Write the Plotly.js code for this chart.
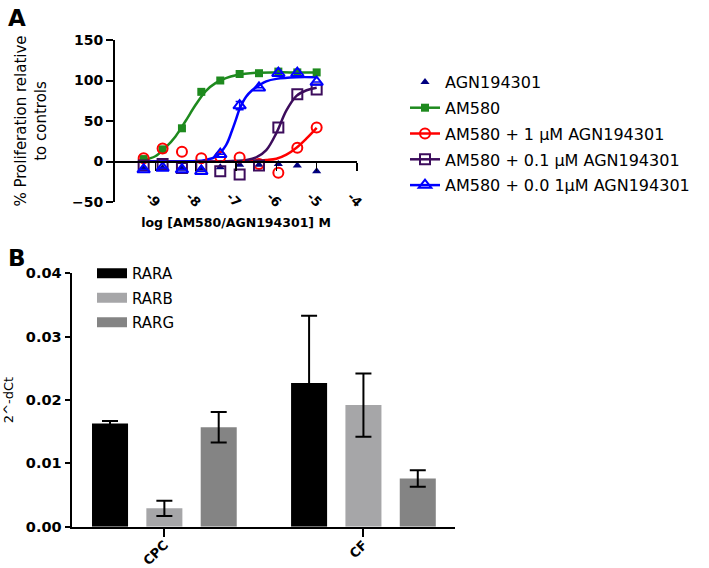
<!DOCTYPE html>
<html>
<head>
<meta charset="utf-8">
<script src="https://cdn.plot.ly/plotly-3.0.1.min.js"></script>
<style>html,body{margin:0;padding:0;background:#fff;}#chart{width:709px;height:568px;}</style>
</head>
<body>
<div id="chart"></div>
<script>
// ---------- Panel A data (log M concentrations, % proliferation) ----------
var logConc = [-9.29, -8.82, -8.34, -7.86, -7.39, -6.91, -6.43, -5.95, -5.48, -5.0];
var agnY    = [-8, -8, -9, -8, -7, -4, -4, -3, -5, -12];
var am580Y  = [3, 15, 41, 86, 100, 108, 109, 111, 110, 110];
var am1uMY  = [4, 16, 12, 4, 6, 5, -3, -14, 17, 42];
var am01uMY = [-5, -3, -8, -6, -12, -16, -5, 42, 83, 89];
var am001uMY= [-10, -8, -10, -12, 9, 69, 91, 109, 109, 98];
var am001uMErr = [0, 0, 0, 0, 0, 5, 0, 0, 0, 0];

// fitted curves
var am580FitX  = [-9.29, -9.0, -8.75, -8.5, -8.25, -8.0, -7.75, -7.5, -7.25, -7.0, -6.5, -6.0, -5.5, -5.0];
var am580FitY  = [2, 6.5, 17, 31, 50, 70, 87, 97, 103, 106.5, 109.5, 110, 110, 110];
var am1uMFitX  = [-9.29, -8.0, -7.0, -6.5, -6.25, -6.0, -5.75, -5.5, -5.25, -5.0];
var am1uMFitY  = [0, 0, 0, 0.8, 1.8, 3.5, 8.5, 17, 28.5, 41.5];
var am01uMFitX = [-9.29, -8.0, -7.5, -7.0, -6.75, -6.5, -6.25, -6.0, -5.75, -5.5, -5.25, -5.0];
var am01uMFitY = [0, 0, 0, 0.8, 1.8, 5, 14, 35, 63, 81, 88, 91];
var am001uMFitX= [-9.29, -8.5, -8.0, -7.75, -7.5, -7.25, -7.1, -7.0, -6.91, -6.75, -6.6, -6.43, -6.25, -6.0, -5.5, -5.0];
var am001uMFitY= [0, 0, 0.5, 2, 6, 20, 38, 52, 65, 80, 88, 94, 99, 102, 104, 104];

var xTickVals = [-9, -8, -7, -6, -5, -4];
var xTickText = ['-9', '-8', '-7', '-6', '-5', '-4'];
var yTickValsA = [-50, 0, 50, 100, 150];

var seriesNames = ['AGN194301', 'AM580', 'AM580 + 1 µM AGN194301', 'AM580 + 0.1 µM AGN194301', 'AM580 + 0.0 1µM AGN194301'];

// ---------- Panel B data ----------
var cells = ['CPC', 'CF'];
var genes = ['RARA', 'RARB', 'RARG'];
var raraVals = [0.0163, 0.0227];
var raraErr  = [0.0004, 0.0106];
var rarbVals = [0.0029, 0.0192];
var rarbErr  = [0.0012, 0.0050];
var rargVals = [0.0157, 0.0076];
var rargErr  = [0.0024, 0.0013];

// ---------- styles ----------
var FONT = 'DejaVu Sans';
var cNavy = '#000080', cGreen = '#1e8a1e', cRed = '#ff0000', cPurple = '#3c0c5c', cBlue = '#0000ff';
var gColors = ['#000000', '#a6a6a8', '#848484'];

var W = 709, H = 568;
function px(x){ return x / W; }
function py(y){ return 1 - y / H; }

var traces = [];

// fitted lines
function fitLine(x, y, color){
  return {x: x, y: y, xaxis: 'x', yaxis: 'y', mode: 'lines', type: 'scatter',
    line: {color: color, width: 2.5, shape: 'spline', smoothing: 1}, showlegend: false, hoverinfo: 'skip'};
}
traces.push(fitLine(am580FitX, am580FitY, cGreen));
traces.push(fitLine(am1uMFitX, am1uMFitY, cRed));
traces.push(fitLine(am01uMFitX, am01uMFitY, cPurple));
traces.push(fitLine(am001uMFitX, am001uMFitY, cBlue));

var markers = [
  {symbol: 'triangle-up', size: 8, color: cNavy, line: {width: 0}},
  {symbol: 'square', size: 8, color: cGreen, line: {width: 0}},
  {symbol: 'circle-open', size: 10, color: cRed, line: {width: 2, color: cRed}},
  {symbol: 'square-open', size: 10, color: cPurple, line: {width: 2, color: cPurple}},
  {symbol: 'triangle-up-open', size: 11, color: cBlue, line: {width: 2, color: cBlue}}
];
var seriesY = [agnY, am580Y, am1uMY, am01uMY, am001uMY];
var seriesColors = [cNavy, cGreen, cRed, cPurple, cBlue];

// data points
for (var i = 0; i < seriesY.length; i++) {
  var t = {x: logConc, y: seriesY[i], xaxis: 'x', yaxis: 'y', mode: 'markers', type: 'scatter',
    marker: markers[i], showlegend: false, name: seriesNames[i]};
  if (i === 4) t.error_y = {type: 'data', array: am001uMErr, visible: true, color: cBlue, thickness: 1.5, width: 4};
  traces.push(t);
}
// legend entries for panel A
for (var j = 0; j < seriesNames.length; j++) {
  traces.push({x: [null], y: [null], xaxis: 'x', yaxis: 'y', type: 'scatter',
    mode: j === 0 ? 'markers' : 'lines+markers', name: seriesNames[j],
    marker: markers[j], line: {color: seriesColors[j], width: 2.5},
    legend: 'legend', legendgroup: 'a' + j, showlegend: true});
}

// bars
var bVals = [raraVals, rarbVals, rargVals];
var bErr = [raraErr, rarbErr, rargErr];
for (var k = 0; k < genes.length; k++) {
  traces.push({x: cells, y: bVals[k], type: 'bar', xaxis: 'x2', yaxis: 'y2', name: genes[k],
    marker: {color: gColors[k], line: {width: 0}}, showlegend: false,
    error_y: {type: 'data', array: bErr[k], visible: true, color: '#000', thickness: 2, width: 8}});
}
// legend entries for panel B
for (var m = 0; m < genes.length; m++) {
  traces.push({x: [null], y: [null], xaxis: 'x2', yaxis: 'y2', type: 'scatter', mode: 'lines',
    name: genes[m], line: {color: gColors[m], width: 11}, legend: 'legend2', legendgroup: 'b' + m, showlegend: true});
}

var layout = {
  width: W, height: H,
  margin: {l: 0, r: 0, t: 0, b: 0},
  paper_bgcolor: '#fff', plot_bgcolor: 'rgba(0,0,0,0)',
  font: {family: FONT, color: '#000'},
  barmode: 'group', bargap: 0.181, bargroupgap: 0.337,
  xaxis: {
    domain: [px(115), px(357)], range: [-10, -4], anchor: 'free', position: py(162),
    showline: true, linecolor: '#000', linewidth: 2, ticks: 'outside', ticklen: 8, tickwidth: 1.5, tickcolor: '#000',
    tickvals: xTickVals, ticktext: xTickText, tickangle: 45, ticklabelstandoff: 13, ticklabelshift: -6,
    tickfont: {family: FONT, size: 13, weight: 'bold'},
    showgrid: false, zeroline: false, fixedrange: true,
    title: {text: 'log [AM580/AGN194301] M', font: {family: FONT, size: 12.5, weight: 'bold'}, standoff: 8}
  },
  yaxis: {
    domain: [py(202), py(40)], range: [-50, 150], anchor: 'x',
    showline: true, linecolor: '#000', linewidth: 2, ticks: 'outside', ticklen: 7, tickwidth: 2, tickcolor: '#000',
    tickvals: yTickValsA, tickfont: {family: FONT, size: 14, weight: 'bold'},
    showgrid: false, zeroline: false, fixedrange: true,
    title: {text: '% Proliferation relative<br>to controls', font: {family: FONT, size: 15}, standoff: 22}
  },
  xaxis2: {
    domain: [px(72), px(455)], anchor: 'y2', type: 'category', range: [-0.464, 1.46],
    showline: true, linecolor: '#000', linewidth: 2.5, ticks: 'outside', ticklen: 8, tickwidth: 2, tickcolor: '#000',
    tickangle: -45, ticklabelstandoff: -5, tickfont: {family: FONT, size: 13, weight: 'bold'},
    showgrid: false, zeroline: false, fixedrange: true
  },
  yaxis2: {
    domain: [py(526.7), py(273.3)], anchor: 'x2', range: [0, 0.04], dtick: 0.01, tickformat: '.2f',
    showline: true, linecolor: '#000', linewidth: 2.5, ticks: 'outside', ticklen: 5, tickwidth: 2, tickcolor: '#000',
    tickfont: {family: FONT, size: 14.5, weight: 'bold'},
    showgrid: false, zeroline: false, fixedrange: true,
    title: {text: '2^-dCt', font: {family: FONT, size: 13}, standoff: 10}
  },
  legend: {
    x: px(405), y: py(65), xanchor: 'left', yanchor: 'top', bgcolor: 'rgba(0,0,0,0)',
    font: {family: FONT, size: 16}, tracegroupgap: 2, itemclick: false, itemdoubleclick: false
  },
  legend2: {
    x: px(92), y: py(257), xanchor: 'left', yanchor: 'top', bgcolor: 'rgba(0,0,0,0)',
    font: {family: FONT, size: 15}, tracegroupgap: 2, itemclick: false, itemdoubleclick: false
  },
  annotations: [
    {text: '<b>A</b>', xref: 'paper', yref: 'paper', x: px(6), y: py(3), xanchor: 'left', yanchor: 'top',
      showarrow: false, font: {family: FONT, size: 23}},
    {text: '<b>B</b>', xref: 'paper', yref: 'paper', x: px(6), y: py(243), xanchor: 'left', yanchor: 'top',
      showarrow: false, font: {family: FONT, size: 23}}
  ]
};

Plotly.newPlot('chart', traces, layout, {displayModeBar: false, staticPlot: true});
</script>
</body>
</html>
